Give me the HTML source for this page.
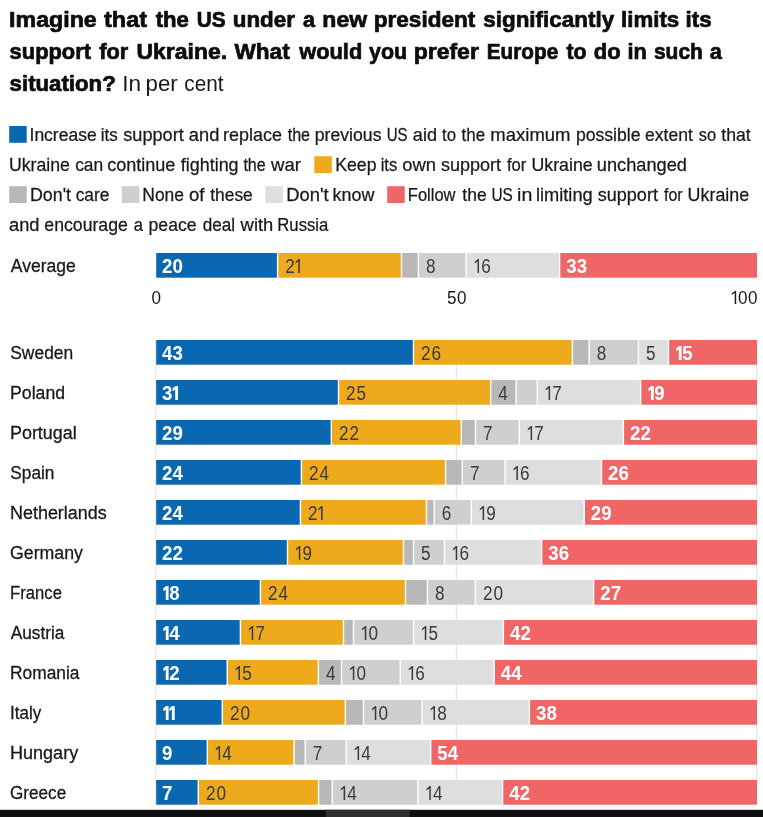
<!DOCTYPE html>
<html lang="en"><head><meta charset="utf-8"><title>Support for Ukraine chart</title>
<style>
html,body{margin:0;padding:0;background:#fff;}
body{width:763px;height:817px;overflow:hidden;font-family:"Liberation Sans",sans-serif;}
svg{display:block;font-family:"Liberation Sans",sans-serif;will-change:transform;}
.t{font-weight:bold;font-size:22px;fill:#0c0c0c;stroke:#0c0c0c;stroke-width:0.7px;stroke-linejoin:round;}
.tr{font-size:22px;fill:#181818;}
.lg{font-size:18.6px;fill:#181818;stroke:#181818;stroke-width:.25px;}
.cn{font-size:19.2px;fill:#181818;stroke:#181818;stroke-width:.3px;}
.ax{font-size:18.6px;fill:#181818;}
.vb{font-size:19.7px;font-weight:bold;fill:#fff;}
.vr{font-size:19.7px;fill:#3a3a3a;}
</style></head><body>
<svg width="763" height="817" viewBox="0 0 763 817">
<rect x="0" y="0" width="763" height="817" fill="#ffffff"/>
<defs>
<path id="ob" d="M2.5 0V-10.6L0 -8.7V-11.7L2.9 -13.9H5.3V0Z"/>
<path id="on" d="M2.8 0V-11.8L0 -9.6V-11.3L3.1 -13.9H4.3V0Z"/>
</defs>
<text class="t" transform="translate(9.05 26.8) scale(1.0553 1)">Imagine</text>
<text class="t" transform="translate(104.00 26.8) scale(1.0692 1)">that</text>
<text class="t" transform="translate(155.70 26.8) scale(1.0076 1)">the</text>
<text class="t" transform="translate(196.72 26.8) scale(0.9465 1)">US</text>
<text class="t" transform="translate(232.75 26.8) scale(1.0172 1)">under</text>
<text class="t" transform="translate(302.96 26.8) scale(0.9808 1)">a</text>
<text class="t" transform="translate(322.36 26.8) scale(1.0461 1)">new</text>
<text class="t" transform="translate(373.79 26.8) scale(1.0252 1)">president</text>
<text class="t" transform="translate(483.20 26.8) scale(1.0210 1)">significantly</text>
<text class="t" transform="translate(621.11 26.8) scale(1.0110 1)">limits</text>
<text class="t" transform="translate(685.61 26.8) scale(1.0125 1)">its</text>
<text class="t" transform="translate(9.62 58.7) scale(0.9941 1)">support</text>
<text class="t" transform="translate(99.26 58.7) scale(0.9906 1)">for</text>
<text class="t" transform="translate(136.52 58.7) scale(1.0439 1)">Ukraine.</text>
<text class="t" transform="translate(234.50 58.7) scale(1.0269 1)">What</text>
<text class="t" transform="translate(299.24 58.7) scale(0.9924 1)">would</text>
<text class="t" transform="translate(369.00 58.7) scale(0.9760 1)">you</text>
<text class="t" transform="translate(413.66 58.7) scale(1.0450 1)">prefer</text>
<text class="t" transform="translate(486.80 58.7) scale(0.9423 1)">Europe</text>
<text class="t" transform="translate(566.40 58.7) scale(0.9678 1)">to</text>
<text class="t" transform="translate(593.81 58.7) scale(1.0012 1)">do</text>
<text class="t" transform="translate(627.44 58.7) scale(0.9876 1)">in</text>
<text class="t" transform="translate(653.94 58.7) scale(0.9537 1)">such</text>
<text class="t" transform="translate(709.66 58.7) scale(0.9891 1)">a</text>
<text class="t" transform="translate(9.61 90.7) scale(1.0102 1)">situation?</text>
<text class="tr" transform="translate(122.24 90.7) scale(1.0264 1)">In</text>
<text class="tr" transform="translate(145.61 90.7) scale(1.0127 1)">per</text>
<text class="tr" transform="translate(184.35 90.7) scale(0.9446 1)">cent</text>
<rect x="9.2" y="126.0" width="17.5" height="16.8" fill="#0a67b2"/>
<rect x="314.3" y="156.2" width="17.5" height="16.8" fill="#eeaa1c"/>
<rect x="9.2" y="186.2" width="17.5" height="16.8" fill="#b8b8b8"/>
<rect x="121.9" y="186.2" width="17.5" height="16.8" fill="#cfcfcf"/>
<rect x="265.3" y="186.2" width="17.5" height="16.8" fill="#dedede"/>
<rect x="387.2" y="186.2" width="17.5" height="16.8" fill="#f06666"/>
<text class="lg" transform="translate(29.53 141.1) scale(0.9417 1)">Increase</text>
<text class="lg" transform="translate(100.84 141.1) scale(0.9136 1)">its</text>
<text class="lg" transform="translate(123.22 141.1) scale(0.9772 1)">support</text>
<text class="lg" transform="translate(188.83 141.1) scale(0.9827 1)">and</text>
<text class="lg" transform="translate(223.08 141.1) scale(0.9664 1)">replace</text>
<text class="lg" transform="translate(287.70 141.1) scale(0.8644 1)">the</text>
<text class="lg" transform="translate(314.69 141.1) scale(0.9510 1)">previous</text>
<text class="lg" transform="translate(386.76 141.1) scale(0.8077 1)">US</text>
<text class="lg" transform="translate(412.83 141.1) scale(0.9743 1)">aid</text>
<text class="lg" transform="translate(442.00 141.1) scale(0.9080 1)">to</text>
<text class="lg" transform="translate(461.60 141.1) scale(0.9083 1)">the</text>
<text class="lg" transform="translate(490.34 141.1) scale(0.9952 1)">maximum</text>
<text class="lg" transform="translate(575.90 141.1) scale(0.9468 1)">possible</text>
<text class="lg" transform="translate(645.05 141.1) scale(0.9432 1)">extent</text>
<text class="lg" transform="translate(698.74 141.1) scale(0.8871 1)">so</text>
<text class="lg" transform="translate(721.30 141.1) scale(0.9489 1)">that</text>
<text class="lg" transform="translate(8.89 170.6) scale(0.9538 1)">Ukraine</text>
<text class="lg" transform="translate(75.16 170.6) scale(0.9343 1)">can</text>
<text class="lg" transform="translate(107.14 170.6) scale(0.9712 1)">continue</text>
<text class="lg" transform="translate(180.80 170.6) scale(0.9638 1)">fighting</text>
<text class="lg" transform="translate(243.40 170.6) scale(0.8605 1)">the</text>
<text class="lg" transform="translate(271.09 170.6) scale(0.9977 1)">war</text>
<text class="lg" transform="translate(335.22 170.6) scale(0.9507 1)">Keep</text>
<text class="lg" transform="translate(380.67 170.6) scale(0.8899 1)">its</text>
<text class="lg" transform="translate(402.33 170.6) scale(0.9878 1)">own</text>
<text class="lg" transform="translate(440.92 170.6) scale(0.9707 1)">support</text>
<text class="lg" transform="translate(507.00 170.6) scale(0.8929 1)">for</text>
<text class="lg" transform="translate(531.49 170.6) scale(0.9554 1)">Ukraine</text>
<text class="lg" transform="translate(596.86 170.6) scale(0.9794 1)">unchanged</text>
<text class="lg" transform="translate(30.01 200.6) scale(0.9578 1)">Don't</text>
<text class="lg" transform="translate(75.66 200.6) scale(0.9355 1)">care</text>
<text class="lg" transform="translate(142.34 200.6) scale(0.9371 1)">None</text>
<text class="lg" transform="translate(189.02 200.6) scale(1.0004 1)">of</text>
<text class="lg" transform="translate(210.30 200.6) scale(0.9341 1)">these</text>
<text class="lg" transform="translate(286.16 200.6) scale(0.9891 1)">Don't</text>
<text class="lg" transform="translate(332.48 200.6) scale(0.9650 1)">know</text>
<text class="lg" transform="translate(407.81 200.6) scale(0.8892 1)">Follow</text>
<text class="lg" transform="translate(462.30 200.6) scale(0.9401 1)">the</text>
<text class="lg" transform="translate(491.44 200.6) scale(0.8286 1)">US</text>
<text class="lg" transform="translate(517.08 200.6) scale(1.0514 1)">in</text>
<text class="lg" transform="translate(535.96 200.6) scale(0.9807 1)">limiting</text>
<text class="lg" transform="translate(597.82 200.6) scale(0.9691 1)">support</text>
<text class="lg" transform="translate(664.00 200.6) scale(0.8559 1)">for</text>
<text class="lg" transform="translate(687.58 200.6) scale(0.9618 1)">Ukraine</text>
<text class="lg" transform="translate(9.03 231.0) scale(0.9827 1)">and</text>
<text class="lg" transform="translate(44.35 231.0) scale(0.9507 1)">encourage</text>
<text class="lg" transform="translate(133.78 231.0) scale(0.8906 1)">a</text>
<text class="lg" transform="translate(148.49 231.0) scale(0.9516 1)">peace</text>
<text class="lg" transform="translate(202.77 231.0) scale(0.9203 1)">deal</text>
<text class="lg" transform="translate(240.59 231.0) scale(0.9900 1)">with</text>
<text class="lg" transform="translate(277.29 231.0) scale(0.8988 1)">Russia</text>
<rect x="155.3" y="340" width="1" height="465" fill="#dedede"/>
<rect x="455.8" y="340" width="1" height="465" fill="#dedede"/>
<rect x="756.3" y="340" width="1" height="465" fill="#dedede"/>
<text class="ax" transform="translate(151.49 304.0) scale(0.92 1)">0</text>
<text class="ax" transform="translate(446.89 304.0) scale(0.92 1)">5</text>
<text class="ax" transform="translate(456.89 304.0) scale(0.92 1)">0</text>
<use href="#on" transform="translate(731.9 304.0) scale(1 0.944)" class="ax"/>
<text class="ax" transform="translate(738.12 304.0) scale(0.92 1)">0</text>
<text class="ax" transform="translate(748.12 304.0) scale(0.92 1)">0</text>
<text class="cn" transform="translate(10.80 272.2) scale(0.9135 1)">Average</text>
<rect x="156.2" y="253.0" width="120.7" height="24.7" fill="#0a67b2"/>
<text class="vb" transform="translate(162.07 273.0) scale(0.95 1)">2</text>
<text class="vb" transform="translate(172.57 273.0) scale(0.95 1)">0</text>
<rect x="278.3" y="253.0" width="122.5" height="24.7" fill="#eeaa1c"/>
<text class="vr" transform="translate(285.19 273.0) scale(0.87 1)">2</text>
<use href="#on" transform="translate(295.5 273.0) scale(1 1.000)" class="vr"/>
<rect x="402.2" y="253.0" width="15.5" height="24.7" fill="#b8b8b8"/>
<rect x="419.1" y="253.0" width="46.4" height="24.7" fill="#cfcfcf"/>
<text class="vr" transform="translate(425.99 273.0) scale(0.87 1)">8</text>
<rect x="466.9" y="253.0" width="92.0" height="24.7" fill="#dedede"/>
<use href="#on" transform="translate(474.7 273.0) scale(1 1.000)" class="vr"/>
<text class="vr" transform="translate(481.19 273.0) scale(0.87 1)">6</text>
<rect x="560.3" y="253.0" width="196.7" height="24.7" fill="#f06666"/>
<text class="vb" transform="translate(566.17 273.0) scale(0.95 1)">3</text>
<text class="vb" transform="translate(576.67 273.0) scale(0.95 1)">3</text>
<text class="cn" transform="translate(10.25 358.5) scale(0.9083 1)">Sweden</text>
<rect x="156.2" y="340.0" width="256.6" height="24.7" fill="#0a67b2"/>
<text class="vb" transform="translate(162.07 360.0) scale(0.95 1)">4</text>
<text class="vb" transform="translate(172.57 360.0) scale(0.95 1)">3</text>
<rect x="414.2" y="340.0" width="157.5" height="24.7" fill="#eeaa1c"/>
<text class="vr" transform="translate(421.09 360.0) scale(0.87 1)">2</text>
<text class="vr" transform="translate(431.59 360.0) scale(0.87 1)">6</text>
<rect x="573.1" y="340.0" width="15.3" height="24.7" fill="#b8b8b8"/>
<rect x="589.8" y="340.0" width="47.9" height="24.7" fill="#cfcfcf"/>
<text class="vr" transform="translate(596.69 360.0) scale(0.87 1)">8</text>
<rect x="639.1" y="340.0" width="28.7" height="24.7" fill="#dedede"/>
<text class="vr" transform="translate(645.99 360.0) scale(0.87 1)">5</text>
<rect x="669.2" y="340.0" width="87.8" height="24.7" fill="#f06666"/>
<use href="#ob" transform="translate(676.3 360.0) scale(1 1.000)" class="vb"/>
<text class="vb" transform="translate(682.27 360.0) scale(0.95 1)">5</text>
<text class="cn" transform="translate(10.02 398.5) scale(0.9212 1)">Poland</text>
<rect x="156.2" y="380.0" width="181.6" height="24.7" fill="#0a67b2"/>
<text class="vb" transform="translate(162.07 400.0) scale(0.95 1)">3</text>
<use href="#ob" transform="translate(172.7 400.0) scale(1 1.000)" class="vb"/>
<rect x="339.2" y="380.0" width="150.8" height="24.7" fill="#eeaa1c"/>
<text class="vr" transform="translate(346.09 400.0) scale(0.87 1)">2</text>
<text class="vr" transform="translate(356.59 400.0) scale(0.87 1)">5</text>
<rect x="491.4" y="380.0" width="24.0" height="24.7" fill="#b8b8b8"/>
<text class="vr" transform="translate(498.29 400.0) scale(0.87 1)">4</text>
<rect x="516.8" y="380.0" width="19.8" height="24.7" fill="#cfcfcf"/>
<rect x="538.0" y="380.0" width="101.9" height="24.7" fill="#dedede"/>
<use href="#on" transform="translate(545.8 400.0) scale(1 1.000)" class="vr"/>
<text class="vr" transform="translate(552.29 400.0) scale(0.87 1)">7</text>
<rect x="641.3" y="380.0" width="115.7" height="24.7" fill="#f06666"/>
<use href="#ob" transform="translate(648.4 400.0) scale(1 1.000)" class="vb"/>
<text class="vb" transform="translate(654.37 400.0) scale(0.95 1)">9</text>
<text class="cn" transform="translate(10.00 438.5) scale(0.9324 1)">Portugal</text>
<rect x="156.2" y="420.0" width="174.4" height="24.7" fill="#0a67b2"/>
<text class="vb" transform="translate(162.07 440.0) scale(0.95 1)">2</text>
<text class="vb" transform="translate(172.57 440.0) scale(0.95 1)">9</text>
<rect x="332.0" y="420.0" width="128.6" height="24.7" fill="#eeaa1c"/>
<text class="vr" transform="translate(338.89 440.0) scale(0.87 1)">2</text>
<text class="vr" transform="translate(349.39 440.0) scale(0.87 1)">2</text>
<rect x="462.0" y="420.0" width="12.8" height="24.7" fill="#b8b8b8"/>
<rect x="476.2" y="420.0" width="42.4" height="24.7" fill="#cfcfcf"/>
<text class="vr" transform="translate(483.09 440.0) scale(0.87 1)">7</text>
<rect x="520.0" y="420.0" width="102.7" height="24.7" fill="#dedede"/>
<use href="#on" transform="translate(527.8 440.0) scale(1 1.000)" class="vr"/>
<text class="vr" transform="translate(534.29 440.0) scale(0.87 1)">7</text>
<rect x="624.1" y="420.0" width="132.9" height="24.7" fill="#f06666"/>
<text class="vb" transform="translate(629.97 440.0) scale(0.95 1)">2</text>
<text class="vb" transform="translate(640.47 440.0) scale(0.95 1)">2</text>
<text class="cn" transform="translate(10.26 478.5) scale(0.9003 1)">Spain</text>
<rect x="156.2" y="460.0" width="144.5" height="24.7" fill="#0a67b2"/>
<text class="vb" transform="translate(162.07 480.0) scale(0.95 1)">2</text>
<text class="vb" transform="translate(172.57 480.0) scale(0.95 1)">4</text>
<rect x="302.1" y="460.0" width="142.8" height="24.7" fill="#eeaa1c"/>
<text class="vr" transform="translate(308.99 480.0) scale(0.87 1)">2</text>
<text class="vr" transform="translate(319.49 480.0) scale(0.87 1)">4</text>
<rect x="446.3" y="460.0" width="15.3" height="24.7" fill="#b8b8b8"/>
<rect x="463.0" y="460.0" width="41.4" height="24.7" fill="#cfcfcf"/>
<text class="vr" transform="translate(469.89 480.0) scale(0.87 1)">7</text>
<rect x="505.8" y="460.0" width="95.0" height="24.7" fill="#dedede"/>
<use href="#on" transform="translate(513.6 480.0) scale(1 1.000)" class="vr"/>
<text class="vr" transform="translate(520.09 480.0) scale(0.87 1)">6</text>
<rect x="602.2" y="460.0" width="154.8" height="24.7" fill="#f06666"/>
<text class="vb" transform="translate(608.07 480.0) scale(0.95 1)">2</text>
<text class="vb" transform="translate(618.57 480.0) scale(0.95 1)">6</text>
<text class="cn" transform="translate(10.00 518.5) scale(0.9347 1)">Netherlands</text>
<rect x="156.2" y="500.0" width="143.5" height="24.7" fill="#0a67b2"/>
<text class="vb" transform="translate(162.07 520.0) scale(0.95 1)">2</text>
<text class="vb" transform="translate(172.57 520.0) scale(0.95 1)">4</text>
<rect x="301.1" y="500.0" width="124.7" height="24.7" fill="#eeaa1c"/>
<text class="vr" transform="translate(307.99 520.0) scale(0.87 1)">2</text>
<use href="#on" transform="translate(318.3 520.0) scale(1 1.000)" class="vr"/>
<rect x="427.2" y="500.0" width="6.3" height="24.7" fill="#b8b8b8"/>
<rect x="434.9" y="500.0" width="35.7" height="24.7" fill="#cfcfcf"/>
<text class="vr" transform="translate(441.79 520.0) scale(0.87 1)">6</text>
<rect x="472.0" y="500.0" width="111.6" height="24.7" fill="#dedede"/>
<use href="#on" transform="translate(479.8 520.0) scale(1 1.000)" class="vr"/>
<text class="vr" transform="translate(486.29 520.0) scale(0.87 1)">9</text>
<rect x="585.0" y="500.0" width="172.0" height="24.7" fill="#f06666"/>
<text class="vb" transform="translate(590.87 520.0) scale(0.95 1)">2</text>
<text class="vb" transform="translate(601.37 520.0) scale(0.95 1)">9</text>
<text class="cn" transform="translate(9.97 558.5) scale(0.9250 1)">Germany</text>
<rect x="156.2" y="540.0" width="130.6" height="24.7" fill="#0a67b2"/>
<text class="vb" transform="translate(162.07 560.0) scale(0.95 1)">2</text>
<text class="vb" transform="translate(172.57 560.0) scale(0.95 1)">2</text>
<rect x="288.2" y="540.0" width="114.6" height="24.7" fill="#eeaa1c"/>
<use href="#on" transform="translate(296.0 560.0) scale(1 1.000)" class="vr"/>
<text class="vr" transform="translate(302.49 560.0) scale(0.87 1)">9</text>
<rect x="404.2" y="540.0" width="8.6" height="24.7" fill="#b8b8b8"/>
<rect x="414.2" y="540.0" width="29.5" height="24.7" fill="#cfcfcf"/>
<text class="vr" transform="translate(421.09 560.0) scale(0.87 1)">5</text>
<rect x="445.1" y="540.0" width="95.8" height="24.7" fill="#dedede"/>
<use href="#on" transform="translate(452.9 560.0) scale(1 1.000)" class="vr"/>
<text class="vr" transform="translate(459.39 560.0) scale(0.87 1)">6</text>
<rect x="542.3" y="540.0" width="214.7" height="24.7" fill="#f06666"/>
<text class="vb" transform="translate(548.17 560.0) scale(0.95 1)">3</text>
<text class="vb" transform="translate(558.67 560.0) scale(0.95 1)">6</text>
<text class="cn" transform="translate(10.10 598.5) scale(0.8682 1)">France</text>
<rect x="156.2" y="580.0" width="103.5" height="24.7" fill="#0a67b2"/>
<use href="#ob" transform="translate(163.3 600.0) scale(1 1.000)" class="vb"/>
<text class="vb" transform="translate(169.27 600.0) scale(0.95 1)">8</text>
<rect x="261.1" y="580.0" width="143.7" height="24.7" fill="#eeaa1c"/>
<text class="vr" transform="translate(267.99 600.0) scale(0.87 1)">2</text>
<text class="vr" transform="translate(278.49 600.0) scale(0.87 1)">4</text>
<rect x="406.2" y="580.0" width="20.5" height="24.7" fill="#b8b8b8"/>
<rect x="428.1" y="580.0" width="46.5" height="24.7" fill="#cfcfcf"/>
<text class="vr" transform="translate(434.99 600.0) scale(0.87 1)">8</text>
<rect x="476.0" y="580.0" width="116.9" height="24.7" fill="#dedede"/>
<text class="vr" transform="translate(482.89 600.0) scale(0.87 1)">2</text>
<text class="vr" transform="translate(493.39 600.0) scale(0.87 1)">0</text>
<rect x="594.3" y="580.0" width="162.7" height="24.7" fill="#f06666"/>
<text class="vb" transform="translate(600.17 600.0) scale(0.95 1)">2</text>
<text class="vb" transform="translate(610.67 600.0) scale(0.95 1)">7</text>
<text class="cn" transform="translate(10.80 638.5) scale(0.8968 1)">Austria</text>
<rect x="156.2" y="620.0" width="83.5" height="24.7" fill="#0a67b2"/>
<use href="#ob" transform="translate(163.3 640.0) scale(1 1.000)" class="vb"/>
<text class="vb" transform="translate(169.27 640.0) scale(0.95 1)">4</text>
<rect x="241.1" y="620.0" width="101.7" height="24.7" fill="#eeaa1c"/>
<use href="#on" transform="translate(248.9 640.0) scale(1 1.000)" class="vr"/>
<text class="vr" transform="translate(255.39 640.0) scale(0.87 1)">7</text>
<rect x="344.2" y="620.0" width="8.6" height="24.7" fill="#b8b8b8"/>
<rect x="354.2" y="620.0" width="58.6" height="24.7" fill="#cfcfcf"/>
<use href="#on" transform="translate(362.0 640.0) scale(1 1.000)" class="vr"/>
<text class="vr" transform="translate(368.49 640.0) scale(0.87 1)">0</text>
<rect x="414.2" y="620.0" width="88.5" height="24.7" fill="#dedede"/>
<use href="#on" transform="translate(422.0 640.0) scale(1 1.000)" class="vr"/>
<text class="vr" transform="translate(428.49 640.0) scale(0.87 1)">5</text>
<rect x="504.1" y="620.0" width="252.9" height="24.7" fill="#f06666"/>
<text class="vb" transform="translate(509.97 640.0) scale(0.95 1)">4</text>
<text class="vb" transform="translate(520.47 640.0) scale(0.95 1)">2</text>
<text class="cn" transform="translate(10.04 678.5) scale(0.9038 1)">Romania</text>
<rect x="156.2" y="660.0" width="70.3" height="24.7" fill="#0a67b2"/>
<use href="#ob" transform="translate(163.3 680.0) scale(1 1.000)" class="vb"/>
<text class="vb" transform="translate(169.27 680.0) scale(0.95 1)">2</text>
<rect x="227.9" y="660.0" width="89.8" height="24.7" fill="#eeaa1c"/>
<use href="#on" transform="translate(235.7 680.0) scale(1 1.000)" class="vr"/>
<text class="vr" transform="translate(242.19 680.0) scale(0.87 1)">5</text>
<rect x="319.1" y="660.0" width="21.7" height="24.7" fill="#b8b8b8"/>
<text class="vr" transform="translate(325.99 680.0) scale(0.87 1)">4</text>
<rect x="342.2" y="660.0" width="57.4" height="24.7" fill="#cfcfcf"/>
<use href="#on" transform="translate(350.0 680.0) scale(1 1.000)" class="vr"/>
<text class="vr" transform="translate(356.49 680.0) scale(0.87 1)">0</text>
<rect x="401.0" y="660.0" width="92.5" height="24.7" fill="#dedede"/>
<use href="#on" transform="translate(408.8 680.0) scale(1 1.000)" class="vr"/>
<text class="vr" transform="translate(415.29 680.0) scale(0.87 1)">6</text>
<rect x="494.9" y="660.0" width="262.1" height="24.7" fill="#f06666"/>
<text class="vb" transform="translate(500.77 680.0) scale(0.95 1)">4</text>
<text class="vb" transform="translate(511.27 680.0) scale(0.95 1)">4</text>
<text class="cn" transform="translate(10.07 718.5) scale(0.8869 1)">Italy</text>
<rect x="156.2" y="700.0" width="65.4" height="24.7" fill="#0a67b2"/>
<use href="#ob" transform="translate(163.3 720.0) scale(1 1.000)" class="vb"/>
<use href="#ob" transform="translate(169.4 720.0) scale(1 1.000)" class="vb"/>
<rect x="223.0" y="700.0" width="121.6" height="24.7" fill="#eeaa1c"/>
<text class="vr" transform="translate(229.89 720.0) scale(0.87 1)">2</text>
<text class="vr" transform="translate(240.39 720.0) scale(0.87 1)">0</text>
<rect x="346.0" y="700.0" width="16.8" height="24.7" fill="#b8b8b8"/>
<rect x="364.2" y="700.0" width="57.3" height="24.7" fill="#cfcfcf"/>
<use href="#on" transform="translate(372.0 720.0) scale(1 1.000)" class="vr"/>
<text class="vr" transform="translate(378.49 720.0) scale(0.87 1)">0</text>
<rect x="422.9" y="700.0" width="105.8" height="24.7" fill="#dedede"/>
<use href="#on" transform="translate(430.7 720.0) scale(1 1.000)" class="vr"/>
<text class="vr" transform="translate(437.19 720.0) scale(0.87 1)">8</text>
<rect x="530.1" y="700.0" width="226.9" height="24.7" fill="#f06666"/>
<text class="vb" transform="translate(535.97 720.0) scale(0.95 1)">3</text>
<text class="vb" transform="translate(546.47 720.0) scale(0.95 1)">8</text>
<text class="cn" transform="translate(9.99 758.5) scale(0.9399 1)">Hungary</text>
<rect x="156.2" y="740.0" width="50.4" height="24.7" fill="#0a67b2"/>
<text class="vb" transform="translate(162.07 760.0) scale(0.95 1)">9</text>
<rect x="208.0" y="740.0" width="85.3" height="24.7" fill="#eeaa1c"/>
<use href="#on" transform="translate(215.8 760.0) scale(1 1.000)" class="vr"/>
<text class="vr" transform="translate(222.29 760.0) scale(0.87 1)">4</text>
<rect x="294.7" y="740.0" width="9.8" height="24.7" fill="#b8b8b8"/>
<rect x="305.9" y="740.0" width="39.7" height="24.7" fill="#cfcfcf"/>
<text class="vr" transform="translate(312.79 760.0) scale(0.87 1)">7</text>
<rect x="347.0" y="740.0" width="83.0" height="24.7" fill="#dedede"/>
<use href="#on" transform="translate(354.8 760.0) scale(1 1.000)" class="vr"/>
<text class="vr" transform="translate(361.29 760.0) scale(0.87 1)">4</text>
<rect x="431.4" y="740.0" width="325.6" height="24.7" fill="#f06666"/>
<text class="vb" transform="translate(437.27 760.0) scale(0.95 1)">5</text>
<text class="vb" transform="translate(447.77 760.0) scale(0.95 1)">4</text>
<text class="cn" transform="translate(10.00 798.5) scale(0.8926 1)">Greece</text>
<rect x="156.2" y="780.0" width="41.4" height="24.7" fill="#0a67b2"/>
<text class="vb" transform="translate(162.07 800.0) scale(0.95 1)">7</text>
<rect x="199.0" y="780.0" width="118.9" height="24.7" fill="#eeaa1c"/>
<text class="vr" transform="translate(205.89 800.0) scale(0.87 1)">2</text>
<text class="vr" transform="translate(216.39 800.0) scale(0.87 1)">0</text>
<rect x="319.3" y="780.0" width="12.3" height="24.7" fill="#b8b8b8"/>
<rect x="333.0" y="780.0" width="84.3" height="24.7" fill="#cfcfcf"/>
<use href="#on" transform="translate(340.8 800.0) scale(1 1.000)" class="vr"/>
<text class="vr" transform="translate(347.29 800.0) scale(0.87 1)">4</text>
<rect x="418.7" y="780.0" width="83.2" height="24.7" fill="#dedede"/>
<use href="#on" transform="translate(426.5 800.0) scale(1 1.000)" class="vr"/>
<text class="vr" transform="translate(432.99 800.0) scale(0.87 1)">4</text>
<rect x="503.3" y="780.0" width="253.7" height="24.7" fill="#f06666"/>
<text class="vb" transform="translate(509.17 800.0) scale(0.95 1)">4</text>
<text class="vb" transform="translate(519.67 800.0) scale(0.95 1)">2</text>
<rect x="0" y="809.8" width="763" height="8" fill="#101010"/>
<rect x="326" y="809.8" width="83.7" height="8" fill="#2f2f2f"/>
</svg>
</body></html>
